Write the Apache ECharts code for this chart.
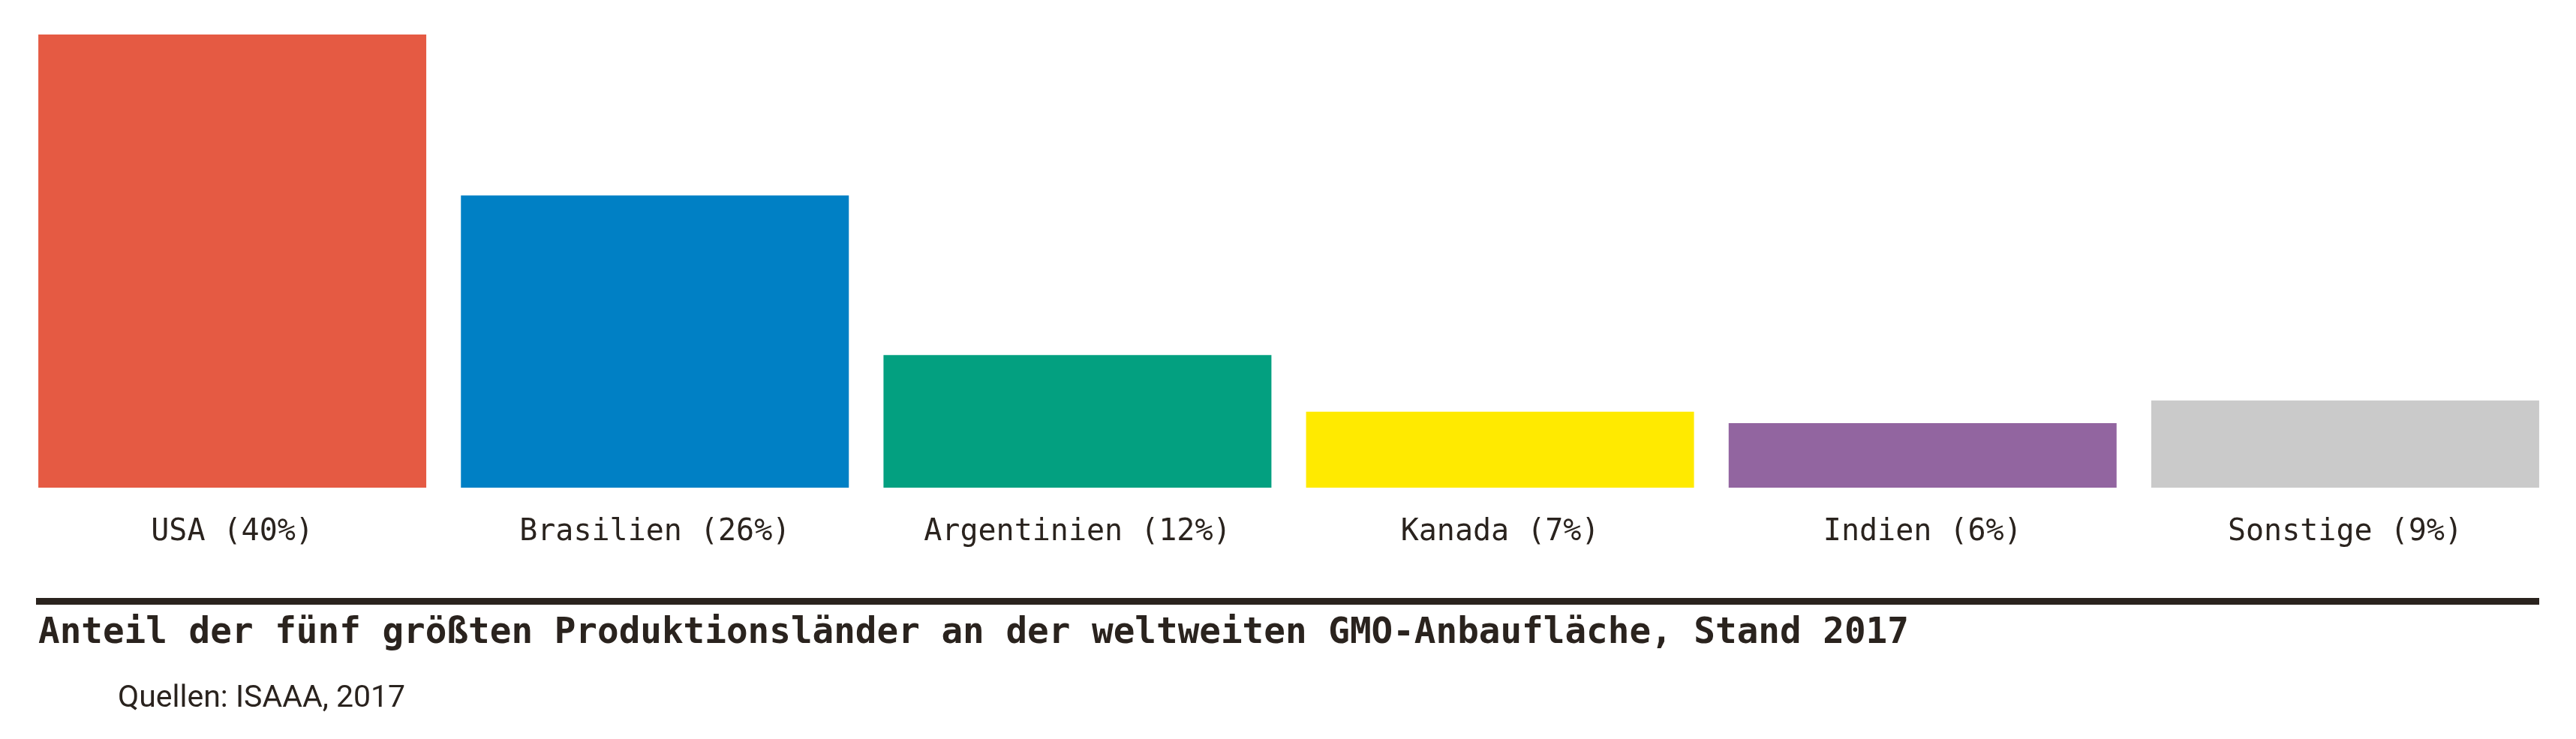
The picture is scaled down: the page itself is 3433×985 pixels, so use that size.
<!DOCTYPE html>
<html>
<head>
<meta charset="utf-8">
<style>
  html, body { margin: 0; padding: 0; background: #fff; }
  #main { width: 3433px; height: 985px; }
</style>
<script src="https://cdn.jsdelivr.net/npm/echarts@6/dist/echarts.min.js"></script>
</head>
<body>
<div id="main"></div>
<script>
// Kategorien (Beschriftung mit Anteil) und Balkenhöhen, aus dem Bild gelesen
var laender = ['USA (40%)', 'Brasilien (26%)', 'Argentinien (12%)', 'Kanada (7%)', 'Indien (6%)', 'Sonstige (9%)'];
var werte = [40, 25.8, 11.7, 6.7, 5.7, 7.7];
var farben = ['#e55a43', '#0080c5', '#03a080', '#ffea00', '#9265a0', '#cacaca'];

var titelText = 'Anteil der fünf größten Produktionsländer an der weltweiten GMO-Anbaufläche, Stand 2017';
var quelleText = 'Quellen: ISAAA, 2017';

var textFarbe = '#2a231e';
var mono = '"DejaVu Sans Mono", "Liberation Mono", monospace';

var myChart = echarts.init(document.getElementById('main'));

var option = {
    backgroundColor: '#fff',
    animation: false,
    title: [
        {
            text: titelText,
            left: 46,
            top: 816,
            textStyle: { fontFamily: mono, fontWeight: 'bold', fontSize: 47.6, color: textFarbe }
        },
        {
            text: quelleText,
            left: 152,
            top: 906,
            textStyle: { fontFamily: 'Roboto, "Noto Sans", sans-serif', fontWeight: 'normal', fontSize: 41, color: textFarbe }
        }
    ],
    // dicke Trennlinie unter den Beschriftungen
    graphic: [
        {
            type: 'rect',
            left: 48,
            top: 797,
            shape: { width: 3336, height: 9 },
            style: { fill: textFarbe }
        }
    ],
    grid: {
        left: 28,
        right: 26,
        top: 46,
        bottom: 335
    },
    xAxis: {
        type: 'category',
        data: laender,
        axisLine: { show: false },
        axisTick: { show: false },
        axisLabel: {
            margin: 40,
            fontFamily: mono,
            fontSize: 40,
            color: textFarbe,
            interval: 0
        }
    },
    yAxis: {
        type: 'value',
        min: 0,
        max: 40,
        show: false,
        splitLine: { show: false }
    },
    series: [{
        type: 'bar',
        barCategoryGap: '8.2%',
        data: werte.map(function (v, i) {
            return { value: v, itemStyle: { color: farben[i] } };
        })
    }]
};

myChart.setOption(option);
</script>
</body>
</html>
